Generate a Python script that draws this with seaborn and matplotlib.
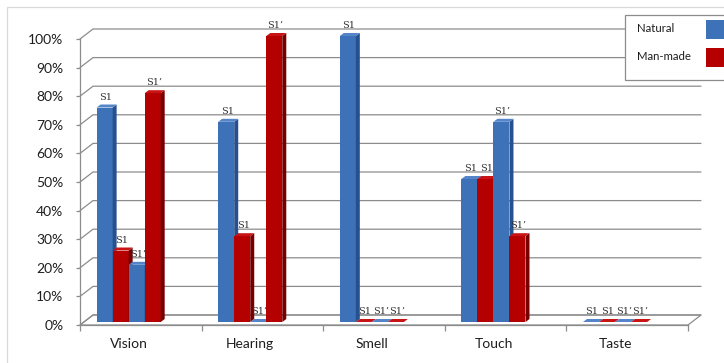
import numpy as np
import pandas as pd
import matplotlib
matplotlib.use("Agg")
import matplotlib.pyplot as plt
import seaborn as sns
from matplotlib.patches import Polygon, Rectangle
from matplotlib.lines import Line2D
from matplotlib.transforms import ScaledTranslation, IdentityTransform

# ---- data -------------------------------------------------------------
senses = ["Vision", "Hearing", "Smell", "Touch", "Taste"]
series = ["S1 Natural", "S1 Man-made", "S1’ Natural", "S1’ Man-made"]
bar_tags = ["S1", "S1", "S1’", "S1’"]
s1_natural = [75, 70, 100, 50, 0]
s1_manmade = [25, 30, 0, 50, 0]
s1p_natural = [20, 0, 0, 70, 0]
s1p_manmade = [80, 100, 0, 30, 0]
y_ticks = list(range(0, 101, 10))
y_tick_labels = [f"{v}%" for v in y_ticks]
legend_labels = ["Natural", "Man-made"]

df = pd.DataFrame({
    "Sense": senses * 4,
    "Series": np.repeat(series, len(senses)),
    "Share": s1_natural + s1_manmade + s1p_natural + s1p_manmade,
})

# ---- style ------------------------------------------------------------
BLUE, BLUE_SIDE, BLUE_TOP = "#3E72B8", "#26508E", "#5585C8"
RED, RED_SIDE, RED_TOP = "#B50000", "#760000", "#C81414"
GRID = "#8C8C8C"
faces = [(BLUE, BLUE_SIDE, BLUE_TOP), (RED, RED_SIDE, RED_TOP)] * 2

sns.set_theme(style="white")
plt.rcParams["font.family"] = ["Lato", "DejaVu Sans"]

W, H = 724, 363
fig = plt.figure(figsize=(W / 100, H / 100), dpi=100)
X0, X1, YB, YT = 80, 688, 325, 39
ax = fig.add_axes([X0 / W, 1 - YB / H, (X1 - X0) / W, (YB - YT) / H])

sns.barplot(data=df, x="Sense", y="Share", hue="Series", order=senses,
            hue_order=series, palette=[BLUE, RED, BLUE, RED], saturation=1,
            width=0.527, gap=0, errorbar=None, legend=False, ax=ax)
bars = [p for p in ax.patches if isinstance(p, Rectangle)]

XL = (-0.4, 4.6)
ax.set_xlim(*XL)
ax.set_ylim(0, 100)
ax.set_xlabel("")
ax.set_ylabel("")

# axes, ticks and labels
for side in ("top", "right"):
    ax.spines[side].set_visible(False)
for side in ("left", "bottom"):
    ax.spines[side].set_color(GRID)
    ax.spines[side].set_linewidth(0.9)
ax.set_yticks(y_ticks)
ax.set_yticklabels(y_tick_labels, fontsize=10, color="#1E1E1E")
ax.tick_params(axis="y", left=True, length=3, width=0.9, color=GRID, pad=9)
ax.set_xticks(range(len(senses)))
ax.set_xticklabels(senses, fontsize=10, color="#1E1E1E")
ax.set_xticks(np.linspace(XL[0], XL[1], len(senses) + 1), minor=True)
ax.tick_params(axis="x", which="major", length=0, pad=9)
ax.tick_params(axis="x", which="minor", bottom=True, length=4, width=0.9,
               color=GRID)

# depth of the back wall / floor and of each bar (pixels)
DX, DY = 13, 10
LIFT = 3
BX, BY = 4, 3


def px(x, y, dx=0.0, dy=0.0):
    p = ax.transData.transform((x, y))
    return np.array([p[0] + dx, p[1] + dy])


# floor plate
floor = [px(XL[0], 0), px(XL[1], 0), px(XL[1], 0, DX, DY), px(XL[0], 0, DX, DY)]
ax.add_patch(Polygon(floor, closed=True, transform=IdentityTransform(),
                     fc="white", ec=GRID, lw=0.9, zorder=0.5, clip_on=False))

# gridlines on the side and back walls
for v in y_ticks:
    a, b = px(XL[0], v), px(XL[1], v, DX, DY)
    pts = np.array([a, px(XL[0], v, DX, DY), b])
    ax.add_line(Line2D(pts[:, 0], pts[:, 1], transform=IdentityTransform(),
                       color=GRID, lw=0.9, zorder=1, clip_on=False))

# 3D bars: front from seaborn, side and top faces added
lift = ScaledTranslation(0, LIFT / 100, fig.dpi_scale_trans)
order = sorted(range(len(bars)), key=lambda k: bars[k].get_x())
for rank, k in enumerate(order):
    p = bars[k]
    s = k // len(senses)
    front, side_c, top_c = faces[s]
    x, w, h = p.get_x(), p.get_width(), p.get_height()
    z = 3 + rank * 0.01
    p.set_transform(ax.transData + lift)
    p.set_zorder(z)
    p.set_clip_on(False)
    p.set_linewidth(0)
    bl, tl = px(x + w, 0, 0, LIFT), px(x + w, h, 0, LIFT)
    lt = px(x, h, 0, LIFT)
    side = [bl, tl, tl + (BX, BY), bl + (BX, BY)]
    top = [lt, tl, tl + (BX, BY), lt + (BX, BY)]
    ax.add_patch(Polygon(side, closed=True, transform=IdentityTransform(),
                         fc=side_c, lw=0, zorder=z, clip_on=False))
    ax.add_patch(Polygon(top, closed=True, transform=IdentityTransform(),
                         fc=top_c, lw=0, zorder=z, clip_on=False))
    ax.annotate(bar_tags[s], xy=(x + w / 2, h), xytext=(1, LIFT + BY + 3),
                textcoords="offset pixels", ha="center", va="bottom",
                fontsize=7, family="DejaVu Serif", color="#333333",
                zorder=10, annotation_clip=False)


def ff(x, y):
    return x / W, 1 - y / H


# legend
fig.add_artist(Rectangle(ff(625, 80), 120 / W, 65 / H, transform=fig.transFigure,
                         fc="white", ec=GRID, lw=0.9, zorder=5))
for label, color, yc in zip(legend_labels, [BLUE, RED], [29, 57]):
    fig.text(*ff(637, yc), label, fontsize=8.2, va="center", ha="left",
             color="#1E1E1E", zorder=6)
    fig.add_artist(Rectangle(ff(706, yc + 10), 20 / W, 19 / H,
                             transform=fig.transFigure, fc=color, lw=0,
                             zorder=6))

# chart frame
fig.add_artist(Rectangle(ff(7, 380), 2, (380 - 7) / H, transform=fig.transFigure,
                         fill=False, ec="#D9D9D9", lw=0.9, zorder=0))

fig.savefig("out.png", dpi=100)
